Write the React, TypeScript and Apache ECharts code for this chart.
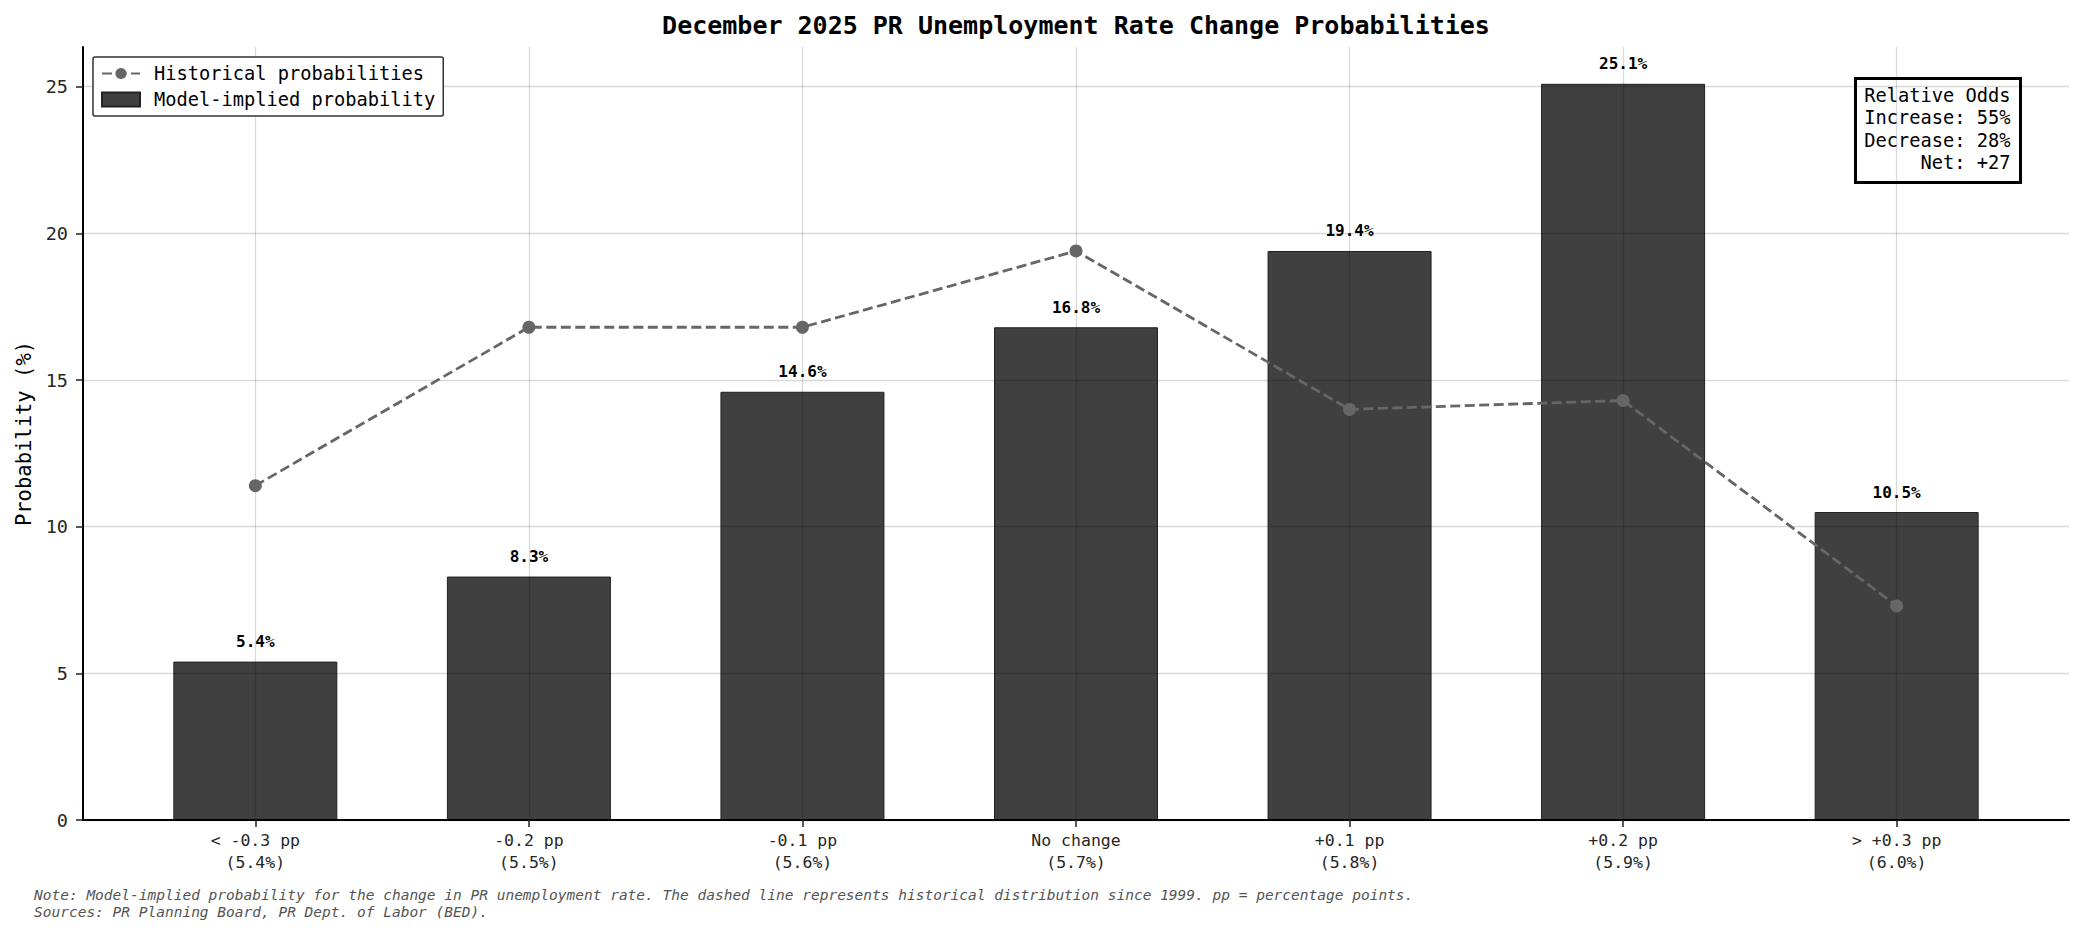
import { useEffect, useRef } from "react";
import * as echarts from "echarts";

// Outcome buckets for the December 2025 change, with the implied rate
const bucketLabels = [
  "< -0.3 pp\n(5.4%)",
  "-0.2 pp\n(5.5%)",
  "-0.1 pp\n(5.6%)",
  "No change\n(5.7%)",
  "+0.1 pp\n(5.8%)",
  "+0.2 pp\n(5.9%)",
  "> +0.3 pp\n(6.0%)",
];
const modelProbs = [5.4, 8.3, 14.6, 16.8, 19.4, 25.1, 10.5];
const historicalProbs = [11.4, 16.8, 16.8, 19.4, 14.0, 14.3, 7.3];
const yTicks = [0, 5, 10, 15, 20, 25];
const oddsLines = ["Relative Odds", "Increase: 55%", "Decrease: 28%", "Net: +27"];
const noteLines = [
  "Note: Model-implied probability for the change in PR unemployment rate. The dashed line represents historical distribution since 1999. pp = percentage points.",
  "Sources: PR Planning Board, PR Dept. of Labor (BED).",
];

const FONT = "DejaVu Sans Mono";
const GRID_COLOR = "rgba(0,0,0,0.15)";

export default function App() {
  const chartRef = useRef<HTMLDivElement>(null);

  useEffect(() => {
    document.body.style.margin = "0";
    if (!chartRef.current) return;
    const chart = echarts.init(chartRef.current, undefined, { renderer: "svg" });
    const xs = bucketLabels.map((_, i) => i);

    chart.setOption({
      animation: false,
      backgroundColor: "#fff",
      title: {
        text: "December 2025 PR Unemployment Rate Change Probabilities",
        left: 1076,
        top: 13,
        textAlign: "center",
        padding: 0,
        textStyle: { fontFamily: FONT, fontSize: 25, fontWeight: "bold", color: "#000" },
      },
      legend: {
        orient: "vertical",
        left: 93,
        top: 57,
        padding: [7, 8, 7, 8],
        itemGap: 7,
        itemWidth: 38,
        itemHeight: 14,
        borderColor: "#333",
        borderWidth: 1.5,
        borderRadius: 2,
        backgroundColor: "#fff",
        textStyle: { fontFamily: FONT, fontSize: 18.7, color: "#000", padding: [0, 0, 0, 9] },
        data: [
          { name: "Historical probabilities" },
          { name: "Model-implied probability", icon: "rect" },
        ],
      },
      grid: { left: 83, right: 15, top: 47, bottom: 115, outerBoundsMode: "none" },
      xAxis: {
        type: "value",
        min: -0.63,
        max: 6.63,
        z: 3,
        axisLine: { show: true, onZero: false, lineStyle: { color: "#000", width: 2 } },
        axisTick: {
          show: true,
          customValues: xs,
          length: 7,
          lineStyle: { color: "#222", width: 1.5 },
        },
        axisLabel: {
          customValues: xs,
          formatter: (v: number) => bucketLabels[Math.round(v)] ?? "",
          fontFamily: FONT,
          fontSize: 16.5,
          lineHeight: 21.5,
          color: "#262626",
          margin: 10,
        },
        splitLine: { show: true, lineStyle: { color: GRID_COLOR, width: 1.3 } },
      },
      yAxis: {
        type: "value",
        min: 0,
        max: 26.355,
        z: 3,
        name: "Probability (%)",
        nameLocation: "middle",
        nameRotate: 90,
        nameGap: 49,
        nameTextStyle: { fontFamily: FONT, fontSize: 20.5, color: "#000" },
        axisLine: { show: true, onZero: false, lineStyle: { color: "#000", width: 2 } },
        axisTick: {
          show: true,
          customValues: yTicks,
          length: 7,
          lineStyle: { color: "#222", width: 1.5 },
        },
        axisLabel: {
          customValues: yTicks,
          fontFamily: FONT,
          fontSize: 18.5,
          color: "#262626",
          margin: 15,
        },
        splitLine: { show: true, lineStyle: { color: GRID_COLOR, width: 1.3 } },
      },
      series: [
        {
          name: "Model-implied probability",
          type: "bar",
          data: modelProbs.map((v, i) => [i, v]),
          barWidth: 164,
          itemStyle: { color: "#404040", borderColor: "#222", borderWidth: 1 },
          label: {
            show: true,
            position: "top",
            distance: 12,
            formatter: (p: any) => `${p.value[1].toFixed(1)}%`,
            fontFamily: FONT,
            fontSize: 16,
            fontWeight: "bold",
            color: "#000",
          },
          z: 2,
        },
        {
          name: "Historical probabilities",
          type: "line",
          data: historicalProbs.map((v, i) => [i, v]),
          symbol: "circle",
          symbolSize: 13,
          lineStyle: { color: "#666", width: 2.8, type: [10, 4.5] },
          itemStyle: { color: "#666" },
          z: 4,
        },
      ],
      graphic: [
        {
          type: "group",
          left: 1854,
          top: 77,
          children: [
            {
              type: "rect",
              shape: { x: 0, y: 0, width: 165, height: 104 },
              style: { fill: "#fff", stroke: "#000", lineWidth: 3 },
            },
            {
              type: "text",
              x: 155,
              y: 6,
              style: {
                text: oddsLines.join("\n"),
                fontFamily: FONT,
                fontSize: 18.7,
                lineHeight: 22.3,
                fill: "#000",
                align: "right",
              },
            },
          ],
        },
        {
          type: "text",
          left: 34,
          top: 886,
          style: {
            text: noteLines.join("\n"),
            fontFamily: FONT,
            fontSize: 14.5,
            fontStyle: "italic",
            lineHeight: 17.3,
            fill: "#555",
          },
        },
      ],
    });

    return () => chart.dispose();
  }, []);

  return <div ref={chartRef} style={{ width: 2084, height: 935 }} />;
}
